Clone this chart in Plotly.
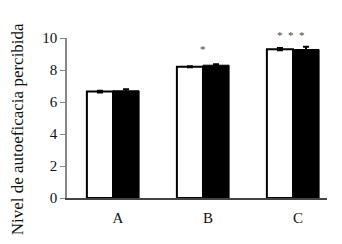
import plotly.graph_objects as go

categories = ["A", "B", "C"]
white_vals = [6.65, 8.2, 9.3]
white_err = [0.05, 0.03, 0.07]
black_vals = [6.7, 8.3, 9.28]
black_err = [0.1, 0.06, 0.18]
y_ticks = [0, 2, 4, 6, 8, 10]
star_labels = [None, "*", "*  *  *"]

font = "Liberation Serif"

fig = go.Figure()
fig.add_trace(go.Bar(x=categories, y=white_vals, marker=dict(color="white", line=dict(color="black", width=2)),
                     error_y=dict(type="data", array=white_err, color="black", thickness=2, width=3)))
fig.add_trace(go.Bar(x=categories, y=black_vals, marker=dict(color="black", line=dict(color="black", width=1)),
                     error_y=dict(type="data", array=black_err, color="black", thickness=2, width=3)))

for i, s in enumerate(star_labels):
    if s:
        top = max(white_vals[i] + white_err[i], black_vals[i] + black_err[i])
        fig.add_annotation(x=categories[i], y=top, text=s, showarrow=False,
                           xshift=0 if i == 1 else -2, yshift=15 if i == 1 else 12, yanchor="middle",
                           font=dict(family=font, size=11, color="#444"))

fig.add_annotation(xref="paper", yref="paper", x=-0.192, y=0.43, text="Nivel de autoeficacia percibida",
                   textangle=-90, showarrow=False, xanchor="center", yanchor="middle",
                   font=dict(family=font, size=17, color="#111"))

fig.update_layout(
    width=342, height=244, margin=dict(l=67, r=15, t=38, b=46, autoexpand=False),
    paper_bgcolor="white", plot_bgcolor="white", showlegend=False,
    barmode="group", bargap=0.42, bargroupgap=0,
    font=dict(family=font, size=15, color="#111"),
)
fig.update_xaxes(range=[-0.511, 2.378], showline=True, linecolor="#444", linewidth=1.5, automargin=False,
                 ticks="", ticklabelshift=5, ticklabelstandoff=5, tickfont=dict(size=15))
fig.update_yaxes(range=[0, 10], tickvals=y_ticks, showline=True, linecolor="#888", linewidth=1.5,
                 ticks="outside", ticklen=5, tickcolor="#888", showgrid=False, zeroline=False,
                 tickfont=dict(size=15), automargin=False)
fig.write_html("out.html", config={"displayModeBar": False},
               post_script="document.body.style.margin='0';")
